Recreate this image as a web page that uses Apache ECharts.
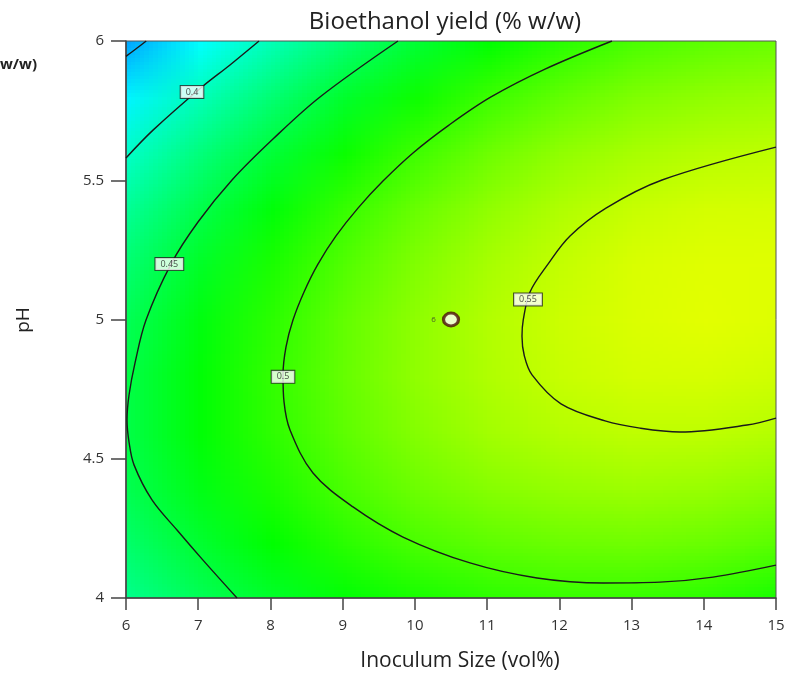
<!DOCTYPE html>
<html>
<head>
<meta charset="utf-8">
<script src="https://cdn.jsdelivr.net/npm/echarts@6/dist/echarts.min.js"></script>
<style>
html,body{margin:0;padding:0;background:#fff;}
#wrap{position:relative;width:787px;height:674px;overflow:hidden;background:#fff;}
#clip{position:absolute;left:126px;top:41px;width:650px;height:557px;overflow:hidden;}
#heat{position:absolute;left:-36.111px;top:-27.85px;width:10px;height:11px;transform-origin:0 0;transform:scale(72.222,55.7);}
#main{position:absolute;left:0;top:0;width:787px;height:674px;}
</style>
</head>
<body>
<div id="wrap"><div id="clip"><div id="heat"></div></div><div id="main"></div></div>
<script>
// ---- data ----
const inoculum = [6, 7, 8, 9, 10, 11, 12, 13, 14, 15];
const pHLevels = [4.0, 4.2, 4.4, 4.6, 4.8, 5.0, 5.2, 5.4, 5.6, 5.8, 6.0];
// yield (% w/w) at each pH row (pHLevels) and inoculum column
const yieldGrid = [
  [0.420, 0.441, 0.458, 0.473, 0.484, 0.492, 0.496, 0.496, 0.492, 0.484],
  [0.434, 0.456, 0.475, 0.491, 0.504, 0.512, 0.517, 0.519, 0.516, 0.510],
  [0.444, 0.467, 0.486, 0.504, 0.518, 0.528, 0.534, 0.537, 0.535, 0.530],
  [0.448, 0.473, 0.493, 0.512, 0.527, 0.539, 0.546, 0.550, 0.550, 0.546],
  [0.448, 0.473, 0.495, 0.515, 0.532, 0.544, 0.553, 0.558, 0.559, 0.556],
  [0.442, 0.469, 0.492, 0.514, 0.531, 0.545, 0.555, 0.561, 0.564, 0.562],
  [0.432, 0.460, 0.485, 0.507, 0.526, 0.541, 0.552, 0.560, 0.563, 0.563],
  [0.417, 0.446, 0.472, 0.496, 0.516, 0.532, 0.544, 0.553, 0.558, 0.559],
  [0.397, 0.427, 0.454, 0.479, 0.500, 0.518, 0.532, 0.541, 0.547, 0.550],
  [0.371, 0.403, 0.431, 0.458, 0.480, 0.499, 0.514, 0.525, 0.532, 0.536],
  [0.341, 0.375, 0.404, 0.431, 0.455, 0.475, 0.491, 0.504, 0.512, 0.517]
];
// contour lines [inoculum, pH]
const contour035 = [[6.0, 5.945], [6.14, 5.972], [6.28, 6.0]];
const contour040 = [[6.0, 5.580], [6.374, 5.680], [7.052, 5.835], [7.440, 5.914], [7.842, 6.0]];
const contour045 = [[9.766, 6.0], [8.686, 5.799], [8.035, 5.648], [7.468, 5.501], [6.997, 5.350],
  [6.623, 5.199], [6.277, 4.998], [6.125, 4.844], [6.042, 4.729], [6.014, 4.639], [6.042, 4.560],
  [6.111, 4.478], [6.360, 4.352], [6.706, 4.244], [7.066, 4.136], [7.537, 4.0]];
const contour050 = [[12.729, 6.0], [11.802, 5.899], [11.054, 5.799], [10.472, 5.698], [9.974, 5.598],
  [9.558, 5.497], [9.212, 5.400], [8.908, 5.300], [8.658, 5.199], [8.465, 5.099], [8.312, 4.998],
  [8.215, 4.901], [8.174, 4.801], [8.188, 4.704], [8.271, 4.603], [8.589, 4.449], [9.143, 4.327],
  [9.835, 4.219], [10.763, 4.126], [11.691, 4.072], [12.605, 4.054], [13.394, 4.057], [14.128, 4.075],
  [15.0, 4.118]];
const contour055 = [[15.0, 5.619], [13.422, 5.501], [12.646, 5.400], [12.148, 5.300], [11.843, 5.199],
  [11.594, 5.099], [11.500, 4.998], [11.483, 4.940], [11.515, 4.870], [11.622, 4.801], [12.023, 4.697],
  [12.633, 4.636], [13.117, 4.610], [13.671, 4.596], [14.599, 4.621], [15.0, 4.646]];
const contourLabels = [[6.914, 5.817, '0.4'], [6.600, 5.199, '0.45'], [8.174, 4.794, '0.5'], [11.566, 5.072, '0.55']];
const designPoint = [[10.5, 5.0, '6']];
const colorStops = ['#0000ff', '#00ffff', '#00ff00', '#ffff00'];

// ---- heat surface (tiny chart, smoothly upscaled by the browser) ----
const heatData = [];
pHLevels.forEach(function (p, i) {
  inoculum.forEach(function (x, j) { heatData.push([x, p, yieldGrid[i][j]]); });
});
const heat = echarts.init(document.getElementById('heat'), null, {renderer: 'canvas', devicePixelRatio: 1, width: 10, height: 11});
heat.setOption({
  animation: false,
  grid: {left: 0, right: 0, top: 0, bottom: 0, containLabel: false, outerBoundsMode: 'none'},
  xAxis: {type: 'value', min: 5.5, max: 15.5, show: false},
  yAxis: {type: 'value', min: 3.9, max: 6.1, show: false},
  visualMap: {show: false, type: 'continuous', dimension: 2, min: 0.275, max: 0.575, inRange: {color: colorStops}},
  series: [{
    type: 'custom', data: heatData, encode: {x: 0, y: 1},
    renderItem: function (params, api) {
      const c = api.coord([api.value(0), api.value(1)]);
      const s = api.size([1, 0.2]);
      return {type: 'rect', shape: {x: c[0] - s[0] / 2, y: c[1] - s[1] / 2, width: s[0], height: s[1]},
        style: {fill: api.visual('color'), stroke: null, lineWidth: 0}};
    }
  }]
});

// ---- main chart ----
const font = 'Open Sans';
const lineSeries = function (d) {
  return {type: 'line', data: d, smooth: 0.35, symbol: 'none', silent: true, clip: true, z: 3,
    lineStyle: {color: '#1a1a1a', width: 1.4}};
};
const main = echarts.init(document.getElementById('main'), null, {renderer: 'canvas'});
main.setOption({
  animation: false,
  backgroundColor: 'transparent',
  textStyle: {fontFamily: font},
  grid: {left: 126, top: 41, width: 650, height: 557, show: true, borderColor: '#555', borderWidth: 1,
    backgroundColor: 'transparent', containLabel: false, outerBoundsMode: 'none'},
  xAxis: {
    type: 'value', min: 6, max: 15, interval: 1,
    axisLine: {show: true, onZero: false, lineStyle: {color: '#444', width: 1.5}},
    axisTick: {show: true, length: 12, lineStyle: {color: '#444', width: 1.5}},
    axisLabel: {margin: 20, fontSize: 15, color: '#333', fontFamily: font},
    splitLine: {show: false}
  },
  yAxis: {
    type: 'value', min: 4, max: 6, interval: 0.5,
    axisLine: {show: true, onZero: false, lineStyle: {color: '#444', width: 1.5}},
    axisTick: {show: true, length: 15, lineStyle: {color: '#444', width: 1.5}},
    axisLabel: {margin: 22, fontSize: 15, color: '#333', fontFamily: font},
    splitLine: {show: false}
  },
  graphic: [
    {type: 'text', x: 445, y: 22, style: {text: 'Bioethanol yield (% w/w)', align: 'center', verticalAlign: 'middle',
      font: '24px "Open Sans"', fill: '#222'}},
    {type: 'text', x: 460, y: 661, style: {text: 'Inoculum Size (vol%)', align: 'center', verticalAlign: 'middle',
      font: '21px "Open Sans"', fill: '#222'}},
    {type: 'text', x: 24, y: 320, rotation: Math.PI / 2, style: {text: 'pH', align: 'center', verticalAlign: 'middle',
      font: '19px "Open Sans"', fill: '#222'}},
    {type: 'text', x: 0, y: 65, style: {text: 'w/w)', align: 'left', verticalAlign: 'middle',
      font: 'bold 15px "Open Sans"', fill: '#222'}}
  ],
  series: [
    lineSeries(contour035), lineSeries(contour040), lineSeries(contour045), lineSeries(contour050), lineSeries(contour055),
    {type: 'scatter', data: contourLabels, symbolSize: 1, itemStyle: {color: 'transparent'}, z: 5, silent: true,
      label: {show: true, position: 'inside', formatter: function (p) { return p.value[2]; },
        fontSize: 9, lineHeight: 10, color: '#222', fontFamily: font, backgroundColor: '#fff', borderColor: '#222',
        borderWidth: 1, padding: [1, 5]}},
    {type: 'scatter', data: designPoint, symbol: 'circle', symbolSize: [15, 13], z: 6, silent: true,
      itemStyle: {color: '#fff', borderColor: '#4a0d0d', borderWidth: 3},
      label: {show: true, position: 'left', distance: 6, formatter: function (p) { return p.value[2]; },
        fontSize: 8, color: '#333', fontFamily: font}}
  ]
});
</script>
</body>
</html>
